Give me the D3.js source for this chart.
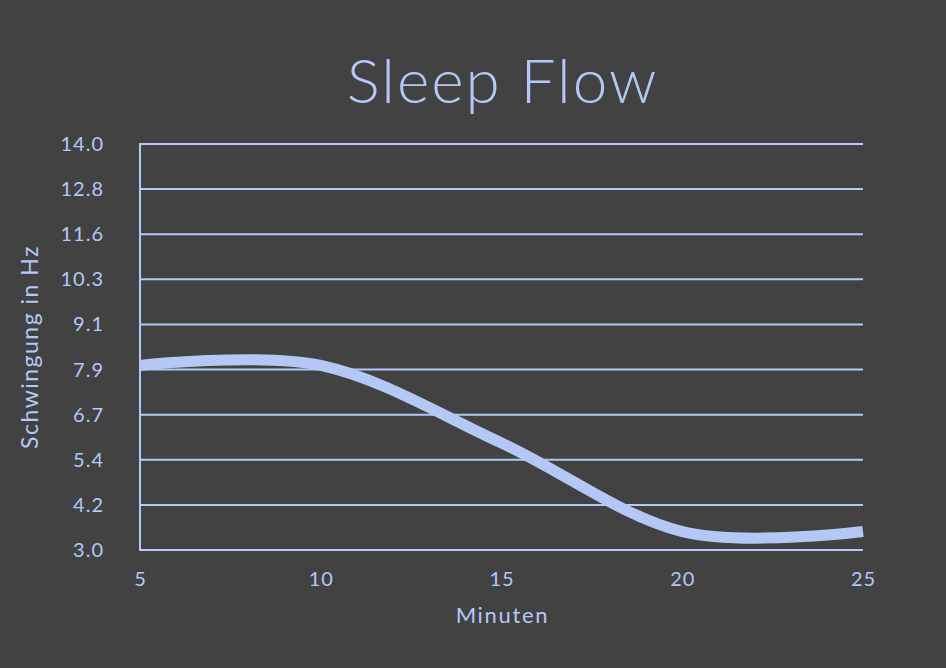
<!DOCTYPE html>
<html>
<head>
<meta charset="utf-8">
<script src="https://cdn.jsdelivr.net/npm/d3@7"></script>
<style>
  html, body { margin: 0; padding: 0; background: #424242; }
  svg { display: block; }
</style>
</head>
<body>
<svg id="chart" width="946" height="668"></svg>
<script>
// data
const minutes = [5, 10, 15, 20, 25];
const hertz = [8.0, 8.0, 5.9, 3.5, 3.5];
const xTickLabels = ["5", "10", "15", "20", "25"];
const yTickLabels = ["3.0", "4.2", "5.4", "6.7", "7.9", "9.1", "10.3", "11.6", "12.8", "14.0"];

const W = 946, H = 668;
const margin = { top: 144, right: 83, bottom: 118, left: 140 };
const blue = "#b4c8f8";
const font = "Lato, 'Noto Sans', sans-serif";

const svg = d3.select("#chart");
svg.append("rect").attr("width", W).attr("height", H).attr("fill", "#424242");

const x = d3.scaleLinear().domain([5, 25]).range([margin.left, W - margin.right]);
const y = d3.scaleLinear().domain([3, 14]).range([H - margin.bottom, margin.top]);

// y ticks are spread evenly over the domain
const yTickVals = yTickLabels.map((_, i) => 3 + i * (14 - 3) / (yTickLabels.length - 1));

// grid lines
svg.append("g").selectAll("line")
  .data(yTickVals)
  .join("line")
  .attr("x1", x(5)).attr("x2", x(25))
  .attr("y1", d => y(d)).attr("y2", d => y(d))
  .attr("stroke", blue).attr("stroke-width", 2);

// left axis line
svg.append("line")
  .attr("x1", x(5)).attr("x2", x(5))
  .attr("y1", y(3) + 1).attr("y2", y(14) - 1)
  .attr("stroke", blue).attr("stroke-width", 2);

// y labels
svg.append("g").selectAll("text")
  .data(yTickVals)
  .join("text")
  .attr("x", 104)
  .attr("y", d => y(d))
  .attr("dy", "0.35em")
  .attr("text-anchor", "end")
  .attr("fill", blue)
  .style("font", `20px ${font}`)
  .style("letter-spacing", "1px")
  .text((d, i) => yTickLabels[i]);

// x labels
svg.append("g").selectAll("text")
  .data(minutes)
  .join("text")
  .attr("x", d => x(d) + 0.5)
  .attr("y", 586)
  .attr("text-anchor", "middle")
  .attr("fill", blue)
  .style("font", `20px ${font}`)
  .style("letter-spacing", "1px")
  .text((d, i) => xTickLabels[i]);

// the curve
const line = d3.line()
  .x((d, i) => x(minutes[i]))
  .y(d => y(d))
  .curve(d3.curveCardinal);

svg.append("path")
  .datum(hertz)
  .attr("d", line)
  .attr("fill", "none")
  .attr("stroke", blue)
  .attr("stroke-width", 11);

// titles
svg.append("text")
  .attr("x", x(15) + 1).attr("y", 103)
  .attr("text-anchor", "middle")
  .attr("fill", blue)
  .style("font", `300 62px ${font}`)
  .style("letter-spacing", "2px")
  .text("Sleep Flow");

svg.append("text")
  .attr("x", x(15) + 1).attr("y", 623)
  .attr("text-anchor", "middle")
  .attr("fill", blue)
  .style("font", `22px ${font}`)
  .style("letter-spacing", "1.7px")
  .text("Minuten");

svg.append("text")
  .attr("transform", `translate(38,${(y(3) + y(14)) / 2}) rotate(-90)`)
  .attr("text-anchor", "middle")
  .attr("fill", blue)
  .style("font", `23px ${font}`)
  .style("letter-spacing", "1.5px")
  .text("Schwingung in Hz");
</script>
</body>
</html>
